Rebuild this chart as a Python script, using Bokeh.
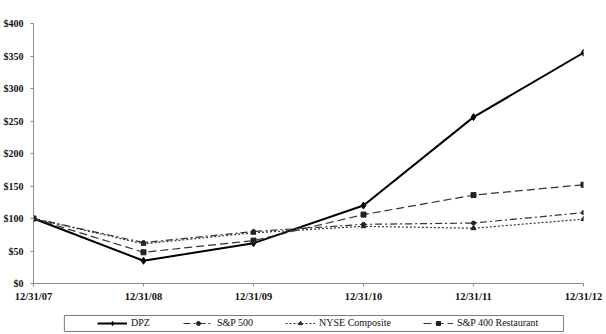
from bokeh.plotting import figure
from bokeh.models import Range1d, FixedTicker, Legend, LegendItem, NumeralTickFormatter, BoxAnnotation
from bokeh.layouts import column
from bokeh.embed import file_html
from bokeh.resources import INLINE

dates = ["12/31/07", "12/31/08", "12/31/09", "12/31/10", "12/31/11", "12/31/12"]
dpz = [100, 35, 62, 120, 256, 355]
sp500 = [100, 63, 80, 91, 93, 109]
nyse = [100, 61, 78, 88, 85, 99]
sp400r = [100, 48, 66, 106, 136, 152]
y_ticks = [0, 50, 100, 150, 200, 250, 300, 350, 400]
names = ["DPZ", "S&P 500", "NYSE Composite", "S&P 400 Restaurant"]

xs = list(range(len(dates)))
FONT = "Liberation Serif"

styles = [
    dict(line=dict(line_color="black", line_width=2), mk=dict(marker="diamond", size=7, color="black")),
    dict(line=dict(line_color="#333333", line_width=1.2, line_dash="7 3 2 3"), mk=dict(marker="circle", size=4, color="#222222")),
    dict(line=dict(line_color="#333333", line_width=1.2, line_dash="2 2"), mk=dict(marker="triangle", size=5, color="#222222")),
    dict(line=dict(line_color="#333333", line_width=1.2, line_dash="8 4"), mk=dict(marker="square", size=5, color="#222222")),
]
series = [dpz, sp500, nyse, sp400r]

p = figure(width=606, height=308, output_backend="svg", toolbar_location=None,
           x_range=Range1d(0, len(dates) - 1), y_range=Range1d(0, 400),
           min_border_left=31, min_border_right=23, min_border_top=23, min_border_bottom=25)
p.outline_line_color = None
p.xgrid.visible = False
p.ygrid.visible = False

for ax in (p.xaxis[0], p.yaxis[0]):
    ax.axis_line_color = "#8c8c8c"
    ax.major_tick_line_color = "#8c8c8c"
    ax.minor_tick_line_color = None
    ax.major_label_text_font = FONT
    ax.major_label_text_font_style = "bold"
    ax.major_label_text_color = "#111111"
    ax.major_tick_in = 0
    ax.major_tick_out = 3

p.xaxis.major_label_text_font_size = "10.5px"
p.yaxis.major_label_text_font_size = "10px"
p.xaxis.ticker = FixedTicker(ticks=xs)
p.xaxis.major_label_overrides = {i: d for i, d in enumerate(dates)}
p.xaxis.major_label_standoff = 4
p.yaxis.ticker = FixedTicker(ticks=y_ticks)
p.yaxis.formatter = NumeralTickFormatter(format="$0")
p.yaxis.major_label_standoff = 7

for s, st in zip(series, styles):
    p.line(xs, s, **st["line"])
    p.scatter(xs, s, **st["mk"])

# legend strip below the chart (its x/y ranges are in page pixels)
lg = figure(width=606, height=26, output_backend="svg", toolbar_location=None,
            x_range=Range1d(31, 583), y_range=Range1d(1, 21),
            min_border_left=31, min_border_right=23, min_border_top=5, min_border_bottom=1)
lg.axis.visible = False
lg.grid.visible = False
lg.outline_line_color = None

items = []
for name, s, st in zip(names, series, styles):
    r1 = lg.line(xs, s, **st["line"])
    r2 = lg.scatter(xs, s, **st["mk"])
    items.append(LegendItem(label=name, renderers=[r1, r2]))

lg.add_layout(BoxAnnotation(left=62, right=563, bottom=3, top=19,
                            fill_alpha=0, line_color="#7a7a7a", line_width=1, line_alpha=1))

legend = Legend(items=items, orientation="horizontal", location=(64, 5))
legend.label_text_font = FONT
legend.label_text_font_size = "10px"
legend.label_text_color = "#111111"
legend.glyph_width = 30
legend.glyph_height = 10
legend.label_height = 10
legend.label_standoff = 4
legend.spacing = 32
legend.padding = 0
legend.margin = 0
legend.border_line_color = None
legend.background_fill_alpha = 0
lg.add_layout(legend, "center")

layout = column(p, lg, spacing=0)
open("out.html", "w").write(file_html(layout, INLINE))
